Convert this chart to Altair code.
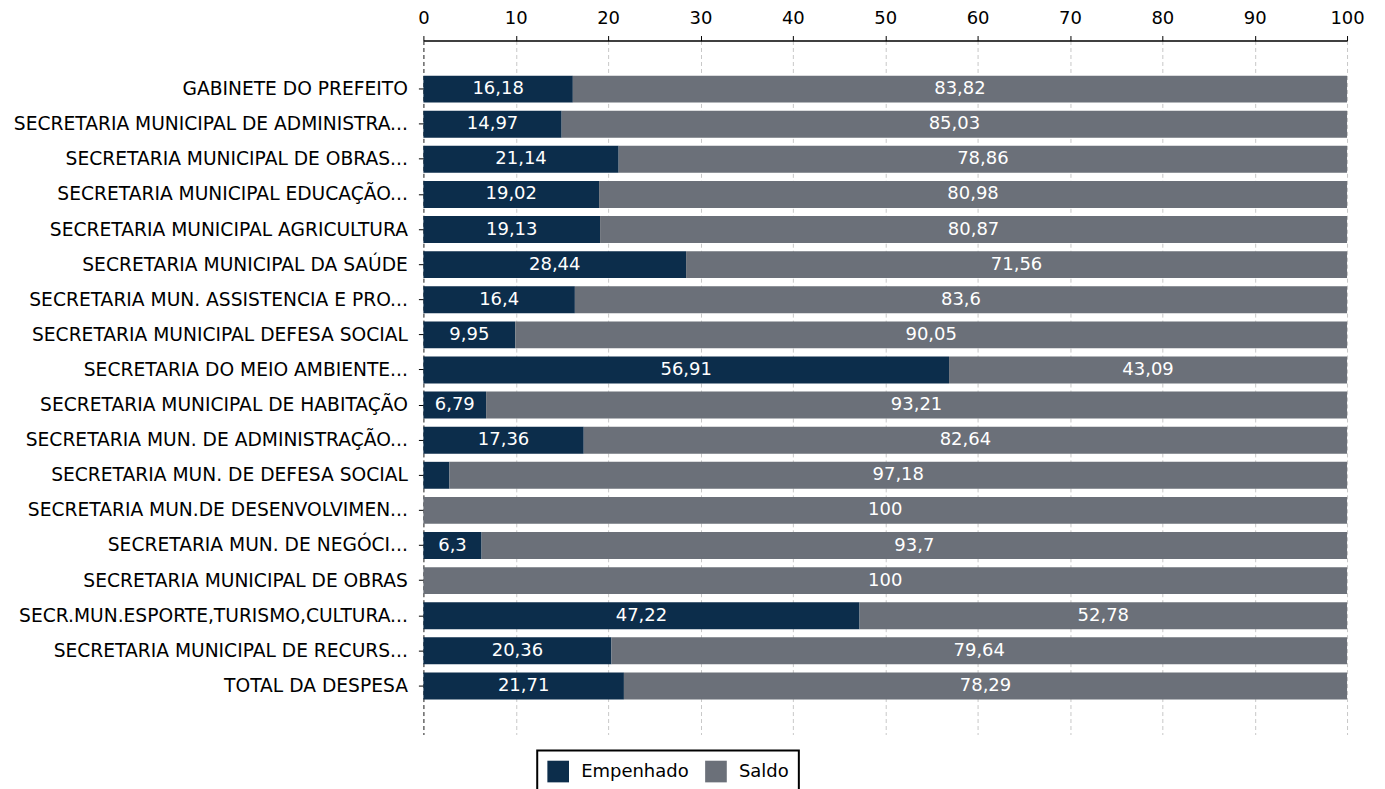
import altair as alt
import pandas as pd

categories = [
    "GABINETE DO PREFEITO",
    "SECRETARIA MUNICIPAL DE ADMINISTRA...",
    "SECRETARIA MUNICIPAL DE OBRAS...",
    "SECRETARIA MUNICIPAL EDUCAÇÃO...",
    "SECRETARIA MUNICIPAL AGRICULTURA",
    "SECRETARIA MUNICIPAL DA SAÚDE",
    "SECRETARIA MUN. ASSISTENCIA E PRO...",
    "SECRETARIA MUNICIPAL DEFESA SOCIAL",
    "SECRETARIA DO MEIO AMBIENTE...",
    "SECRETARIA MUNICIPAL DE HABITAÇÃO",
    "SECRETARIA MUN. DE ADMINISTRAÇÃO...",
    "SECRETARIA MUN. DE DEFESA SOCIAL",
    "SECRETARIA MUN.DE DESENVOLVIMEN...",
    "SECRETARIA MUN. DE NEGÓCI...",
    "SECRETARIA MUNICIPAL DE OBRAS",
    "SECR.MUN.ESPORTE,TURISMO,CULTURA...",
    "SECRETARIA MUNICIPAL DE RECURS...",
    "TOTAL DA DESPESA",
]
empenhado = [16.18, 14.97, 21.14, 19.02, 19.13, 28.44, 16.4, 9.95, 56.91, 6.79,
             17.36, 2.82, 0, 6.3, 0, 47.22, 20.36, 21.71]
saldo = [83.82, 85.03, 78.86, 80.98, 80.87, 71.56, 83.6, 90.05, 43.09, 93.21,
         82.64, 97.18, 100, 93.7, 100, 52.78, 79.64, 78.29]
series = ["Empenhado", "Saldo"]
colors = ["#0c2d4b", "#6b7079"]
x_ticks = [0, 10, 20, 30, 40, 50, 60, 70, 80, 90, 100]


def fmt(v):
    return f"{v:g}".replace(".", ",")


rows = []
for i, c in enumerate(categories):
    for k, (s, vals) in enumerate(zip(series, [empenhado, saldo])):
        rows.append({"cat": c, "serie": s, "value": vals[i], "ord": k,
                     "label": fmt(vals[i])})
df = pd.DataFrame(rows)

FONT = "DejaVu Sans"

base = alt.Chart(df).transform_stack(
    stack="value", as_=["x0", "x1"], groupby=["cat"], sort=[alt.SortField("ord")]
).transform_calculate(mid="(datum.x0 + datum.x1) / 2")

y_enc = alt.Y(
    "cat:N", sort=categories, title=None,
    scale=alt.Scale(paddingInner=0.233, paddingOuter=1.0),
    axis=alt.Axis(labelFont=FONT, labelFontSize=18.7, labelColor="#000",
                  tickColor="#000", tickSize=5, labelPadding=11,
                  domainColor="#333", domainDash=[4, 3], labelLimit=600),
)

bars = base.mark_bar().encode(
    x=alt.X("x0:Q", scale=alt.Scale(domain=[0, 100], nice=False), title=None,
            axis=alt.Axis(orient="top", values=x_ticks, labelFont=FONT,
                          labelFontSize=18, labelColor="#000", tickColor="#000",
                          tickSize=5, domainColor="#000", domainWidth=1.5,
                          grid=True, gridDash=[4, 3], gridColor="#c8c8c8",
                          labelPadding=8, labelFlush=False)),
    x2="x1:Q",
    y=y_enc,
    color=alt.Color("serie:N", scale=alt.Scale(domain=series, range=colors),
                    legend=alt.Legend(title=None, orient="none", direction="horizontal",
                                      legendX=114, legendY=711,
                                      symbolType="square", symbolSize=470,
                                      symbolStrokeWidth=0, labelFont=FONT,
                                      labelFontSize=18, labelColor="#000",
                                      strokeColor="#000",
                                      fillColor="#fff", padding=10,
                                      columnPadding=16, labelOffset=12)),
)

texts = base.transform_filter("datum.value >= 5").mark_text(
    color="white", font=FONT, fontSize=18, baseline="middle"
).encode(
    x=alt.X("mid:Q"),
    y=alt.Y("cat:N", sort=categories),
    text="label:N",
)

chart = alt.layer(bars, texts).properties(
    width=925, height=695,
    autosize=alt.AutoSizeParams(type="none"),
    padding={"left": 416, "top": 32, "right": 30, "bottom": 60},
).configure_view(stroke=None).configure_legend(strokeWidth=2)

chart.save("out.html", embed_options={"renderer": "svg", "actions": False})
